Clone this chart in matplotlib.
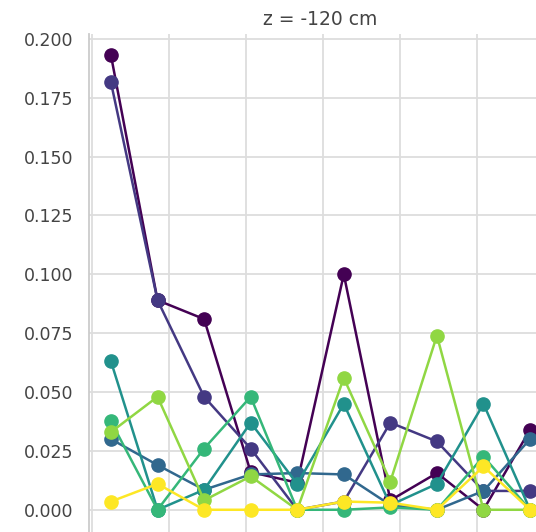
import matplotlib
matplotlib.use("Agg")
import matplotlib.pyplot as plt
import numpy as np

# fraction per bin, one series per run, z = -120 cm
bins = np.arange(10)
series = [
    [0.193, 0.089, 0.081, 0.016, 0.0115, 0.100, 0.004, 0.0156, 0.000, 0.034],
    [0.1815, 0.089, 0.048, 0.026, 0.000, 0.0035, 0.037, 0.029, 0.008, 0.008],
    [0.030, 0.019, 0.0085, 0.015, 0.0156, 0.015, 0.002, 0.000, 0.008, 0.030],
    [0.063, 0.000, 0.0085, 0.037, 0.011, 0.045, 0.002, 0.011, 0.045, 0.000],
    [0.0375, 0.000, 0.026, 0.048, 0.000, 0.000, 0.001, 0.000, 0.0226, 0.000],
    [0.033, 0.048, 0.004, 0.0142, 0.000, 0.056, 0.012, 0.074, 0.000, 0.000],
    [0.0035, 0.011, 0.000, 0.000, 0.000, 0.0035, 0.003, 0.000, 0.0184, 0.000],
]
colors = ["#440154", "#443983", "#31688e", "#21918c", "#35b779", "#90d743", "#fde725"]
yticks = np.arange(0, 0.201, 0.025)
title = "z = -120 cm"

fig = plt.figure(figsize=(5.36, 5.32), dpi=100)
ax = fig.add_axes([0.166, -0.0113, 0.862, 0.9474])

for vals, c in zip(series, colors):
    ax.plot(bins, vals, color=c, lw=1.8, marker="o", markersize=9.5)

ax.set_xlim(-0.4725, 9.45)
ax.set_ylim(-0.012, 0.2021)
ax.set_xticks(np.arange(-0.408, 9.5, 1.654))
ax.set_xticklabels([])
ax.set_yticks(yticks)
ax.set_yticklabels([f"{v:.3f}" for v in yticks])
ax.tick_params(axis="both", length=0, labelsize=12.5, labelcolor="#444444")
ax.tick_params(axis="y", pad=11.5)
ax.grid(True, color="#dddddd", lw=1.3)
ax.set_axisbelow(True)
for side in ["top", "right", "bottom"]:
    ax.spines[side].set_visible(False)
ax.spines["left"].set_color("#cccccc")
ax.spines["left"].set_linewidth(1.3)
ax.set_title(title, fontsize=13.5, color="#444444", pad=6.5)

fig.savefig("out.png", dpi=100)
